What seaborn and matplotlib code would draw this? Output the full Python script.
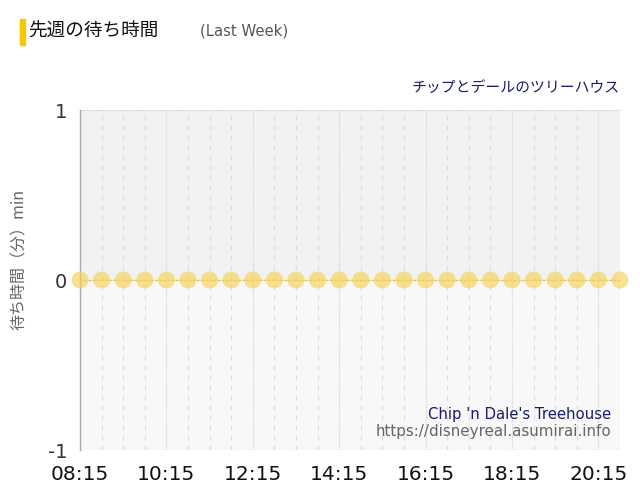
import matplotlib
matplotlib.use("Agg")
import matplotlib.pyplot as plt
import matplotlib.patches as mpatches
import seaborn as sns
import pandas as pd

times = ["08:15", "08:45", "09:15", "09:45", "10:15", "10:45", "11:15", "11:45",
         "12:15", "12:45", "13:15", "13:45", "14:15", "14:45", "15:15", "15:45",
         "16:15", "16:45", "17:15", "17:45", "18:15", "18:45", "19:15", "19:45",
         "20:15", "20:45"]
wait_min = [0, 0, 0, 0, 0, 0, 0, 0, 0, 0, 0, 0, 0,
            0, 0, 0, 0, 0, 0, 0, 0, 0, 0, 0, 0, 0]
y_ticks = [-1, 0, 1]

df = pd.DataFrame({"pos": range(len(times)), "time": times, "wait": wait_min})

sns.set_style("white")
plt.rcParams["font.family"] = ["Noto Sans CJK JP", "DejaVu Sans"]

fig = plt.figure(figsize=(6.4, 5.0), dpi=100)
ax = fig.add_axes([0.125, 0.1, 0.84375, 0.68])

# background halves
ax.axhspan(0, 1, color="#f2f2f2", zorder=0)
ax.axhspan(-1, 0, color="#f8f8f8", zorder=0)

# vertical grid: dashed every slot, dotted on the labeled ones
for i in df["pos"]:
    if i % 4 == 0:
        ax.axvline(i, color="#d4d4d4", lw=0.9, ls=(0, (1, 1)), zorder=1)
    else:
        ax.axvline(i, color="#dddddd", lw=0.9, ls=(0, (4, 4)), zorder=1)
ax.axhline(1, color="#cccccc", lw=0.8, ls=(0, (1, 1)), zorder=1)
ax.axhline(-1, color="#cccccc", lw=0.8, ls=(0, (1, 1)), zorder=1)
ax.axhline(0, color="#e0e0e0", lw=0.8, zorder=1)

sns.lineplot(data=df, x="pos", y="wait", ax=ax, color="#f0c419", lw=1.0,
             ls=(0, (1.5, 1.5)), zorder=3)
sns.scatterplot(data=df, x="pos", y="wait", ax=ax, color="#f5d25a", alpha=0.65,
                s=150, edgecolor="none", zorder=4, clip_on=False)

ax.set_xlim(0, len(times) - 1)
ax.set_ylim(-1, 1)
ax.set_yticks(y_ticks)
ax.set_yticklabels([str(v) for v in y_ticks], fontsize=14, color="#333333",
                   family="DejaVu Sans")
ax.set_xticks(df["pos"][::4])
ax.set_xticklabels(df["time"][::4], fontsize=14.5, color="#111111",
                   family="DejaVu Sans")
ax.tick_params(axis="both", length=10, width=0.8, color="#dddddd", pad=1)
ax.tick_params(axis="y", length=8)

for side in ["top", "right", "bottom"]:
    ax.spines[side].set_visible(False)
ax.spines["left"].set_color("#aaaaaa")
ax.spines["left"].set_linewidth(1.0)

ax.set_xlabel("")
ax.set_ylabel("待ち時間（分）min", fontsize=11.5, color="#666666")
ax.yaxis.set_label_coords(-0.097, 0.56)

# header
fig.patches.append(mpatches.Rectangle((20 / 640, 1 - 45 / 500), 5 / 640, 26 / 500,
                                      transform=fig.transFigure,
                                      color="#f5c800", zorder=5))
fig.text(28 / 640, 1 - 32 / 500, "先週の待ち時間", fontsize=13.4, color="#111111",
         va="center", ha="left")
fig.text(200 / 640, 1 - 31 / 500, "(Last Week)", fontsize=10.7, color="#555555",
         va="center", ha="left", family="DejaVu Sans")
fig.text(620 / 640, 1 - 88 / 500, "チップとデールのツリーハウス", fontsize=10.7,
         color="#1a1a6e", va="center", ha="right")

# watermark
ax.text(0.984, 0.105, "Chip 'n Dale's Treehouse", transform=ax.transAxes,
        fontsize=10.7, color="#1a1a6e", ha="right", va="center",
        family="DejaVu Sans")
ax.text(0.984, 0.055, "https://disneyreal.asumirai.info", transform=ax.transAxes,
        fontsize=10.9, color="#666666", ha="right", va="center",
        family="DejaVu Sans")

fig.savefig("out.png", dpi=100)
